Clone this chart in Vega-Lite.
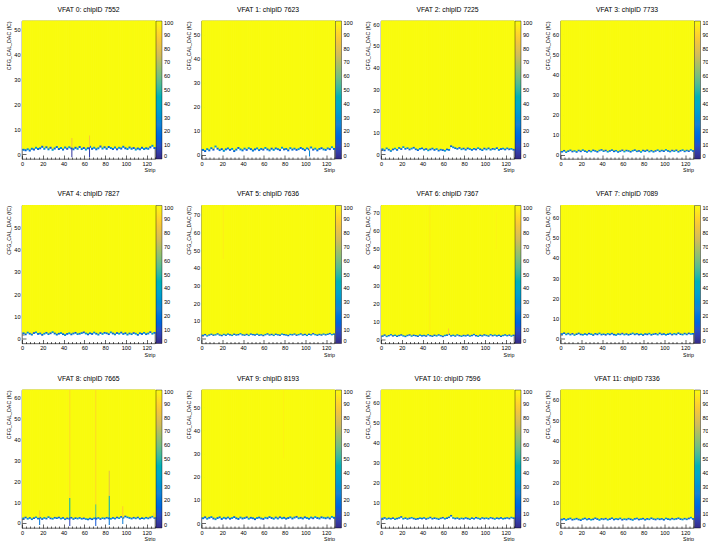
{
"$schema":"https://vega.github.io/schema/vega-lite/v6.json",
"background":"white",
"padding":{"left":6,"top":6,"right":0,"bottom":0},
"config":{
 "font":"Liberation Sans",
 "view":{"stroke":"#222","strokeWidth":0.7},
 "axis":{"grid":false,"domain":false,"zindex":1,"labelFont":"Liberation Sans","labelFontSize":5.6,"labelColor":"#000","tickColor":"#000","tickWidth":0.6,"titleFont":"Liberation Sans","titleFontSize":5.3,"titleFontWeight":"normal","titleColor":"#000","titlePadding":2,"labelFlush":false,"labelPadding":6},
 "legend":{"gradientLength":138,"gradientThickness":6,"labelFont":"Liberation Sans","labelFontSize":5.6,"labelColor":"#000","offset":1,"padding":0,"labelOffset":2,"gradientStrokeColor":"#000","gradientStrokeWidth":0.4,"labelOverlap":false},
 "title":{"font":"Liberation Sans","fontSize":6.8,"fontWeight":"normal","color":"#000","anchor":"middle","frame":"group","offset":7}
},
"datasets":{
"d0":[{"s":0,"b":1.4,"t":2.2,"v":22},{"s":2,"b":1.2,"t":2.0,"v":14},{"s":4,"b":1.6,"t":2.4,"v":30},{"s":6,"b":1.1,"t":1.9,"v":18},{"s":8,"b":1.8,"t":2.6,"v":26},{"s":10,"b":1.5,"t":2.3,"v":12},{"s":12,"b":2.2,"t":3.0,"v":34},{"s":14,"b":1.7,"t":2.5,"v":16},{"s":16,"b":2.0,"t":2.8,"v":22},{"s":18,"b":2.6,"t":3.4,"v":14},{"s":20,"b":1.8,"t":2.6,"v":30},{"s":22,"b":2.4,"t":3.2,"v":18},{"s":24,"b":1.6,"t":2.4,"v":26},{"s":26,"b":2.2,"t":3.0,"v":12},{"s":28,"b":1.4,"t":2.2,"v":34},{"s":30,"b":1.9,"t":2.7,"v":16},{"s":32,"b":2.5,"t":3.3,"v":22},{"s":34,"b":1.7,"t":2.5,"v":14},{"s":36,"b":2.1,"t":2.9,"v":30},{"s":38,"b":1.5,"t":2.3,"v":18},{"s":40,"b":2.3,"t":3.1,"v":26},{"s":42,"b":1.8,"t":2.6,"v":12},{"s":44,"b":2.4,"t":3.2,"v":34},{"s":46,"b":2.0,"t":2.8,"v":16},{"s":48,"b":1.6,"t":2.4,"v":22},{"s":50,"b":2.2,"t":3.0,"v":14},{"s":52,"b":1.8,"t":2.6,"v":30},{"s":54,"b":2.5,"t":3.3,"v":18},{"s":56,"b":1.7,"t":2.5,"v":26},{"s":58,"b":2.1,"t":2.9,"v":12},{"s":60,"b":1.5,"t":2.3,"v":34},{"s":62,"b":2.0,"t":2.8,"v":16},{"s":64,"b":2.6,"t":3.4,"v":22},{"s":66,"b":1.8,"t":2.6,"v":14},{"s":68,"b":2.2,"t":3.0,"v":30},{"s":70,"b":1.6,"t":2.4,"v":18},{"s":72,"b":2.0,"t":2.8,"v":26},{"s":74,"b":2.7,"t":3.5,"v":12},{"s":76,"b":1.9,"t":2.7,"v":34},{"s":78,"b":2.4,"t":3.2,"v":16},{"s":80,"b":1.8,"t":2.6,"v":22},{"s":82,"b":2.5,"t":3.3,"v":14},{"s":84,"b":2.1,"t":2.9,"v":30},{"s":86,"b":1.7,"t":2.5,"v":18},{"s":88,"b":2.3,"t":3.1,"v":26},{"s":90,"b":1.6,"t":2.4,"v":12},{"s":92,"b":2.2,"t":3.0,"v":34},{"s":94,"b":1.9,"t":2.7,"v":16},{"s":96,"b":2.6,"t":3.4,"v":22},{"s":98,"b":2.0,"t":2.8,"v":14},{"s":100,"b":1.7,"t":2.5,"v":30},{"s":102,"b":2.3,"t":3.1,"v":18},{"s":104,"b":1.8,"t":2.6,"v":26},{"s":106,"b":2.1,"t":2.9,"v":12},{"s":108,"b":1.5,"t":2.3,"v":34},{"s":110,"b":1.9,"t":2.7,"v":16},{"s":112,"b":1.6,"t":2.4,"v":22},{"s":114,"b":2.2,"t":3.0,"v":14},{"s":116,"b":1.7,"t":2.5,"v":30},{"s":118,"b":2.0,"t":2.8,"v":18},{"s":120,"b":1.8,"t":2.6,"v":26},{"s":122,"b":2.4,"t":3.2,"v":12},{"s":124,"b":3.0,"t":3.8,"v":34},{"s":126,"b":2.1,"t":2.9,"v":16}],
"d1":[{"s":0,"b":1.6,"t":2.4,"v":22},{"s":2,"b":1.1,"t":1.9,"v":14},{"s":4,"b":1.9,"t":2.7,"v":30},{"s":6,"b":1.4,"t":2.2,"v":18},{"s":8,"b":2.3,"t":3.1,"v":26},{"s":10,"b":1.7,"t":2.5,"v":12},{"s":12,"b":3.0,"t":3.8,"v":34},{"s":14,"b":2.1,"t":2.9,"v":16},{"s":16,"b":1.5,"t":2.3,"v":22},{"s":18,"b":1.9,"t":2.7,"v":14},{"s":20,"b":1.2,"t":2.0,"v":30},{"s":22,"b":1.8,"t":2.6,"v":18},{"s":24,"b":2.2,"t":3.0,"v":26},{"s":26,"b":1.6,"t":2.4,"v":12},{"s":28,"b":2.0,"t":2.8,"v":34},{"s":30,"b":1.1,"t":1.9,"v":16},{"s":32,"b":1.7,"t":2.5,"v":22},{"s":34,"b":2.4,"t":3.2,"v":14},{"s":36,"b":1.8,"t":2.6,"v":30},{"s":38,"b":1.4,"t":2.2,"v":18},{"s":40,"b":2.1,"t":2.9,"v":26},{"s":42,"b":1.6,"t":2.4,"v":12},{"s":44,"b":2.3,"t":3.1,"v":34},{"s":46,"b":1.9,"t":2.7,"v":16},{"s":48,"b":1.3,"t":2.1,"v":22},{"s":50,"b":1.8,"t":2.6,"v":14},{"s":52,"b":2.2,"t":3.0,"v":30},{"s":54,"b":1.5,"t":2.3,"v":18},{"s":56,"b":2.0,"t":2.8,"v":26},{"s":58,"b":1.7,"t":2.5,"v":12},{"s":60,"b":2.4,"t":3.2,"v":34},{"s":62,"b":1.8,"t":2.6,"v":16},{"s":64,"b":1.4,"t":2.2,"v":22},{"s":66,"b":2.1,"t":2.9,"v":14},{"s":68,"b":1.6,"t":2.4,"v":30},{"s":70,"b":2.2,"t":3.0,"v":18},{"s":72,"b":1.9,"t":2.7,"v":26},{"s":74,"b":1.5,"t":2.3,"v":12},{"s":76,"b":2.5,"t":3.3,"v":34},{"s":78,"b":1.8,"t":2.6,"v":16},{"s":80,"b":2.0,"t":2.8,"v":22},{"s":82,"b":1.4,"t":2.2,"v":14},{"s":84,"b":2.3,"t":3.1,"v":30},{"s":86,"b":1.7,"t":2.5,"v":18},{"s":88,"b":2.1,"t":2.9,"v":26},{"s":90,"b":1.6,"t":2.4,"v":12},{"s":92,"b":1.9,"t":2.7,"v":34},{"s":94,"b":2.4,"t":3.2,"v":16},{"s":96,"b":2.0,"t":2.8,"v":22},{"s":98,"b":1.5,"t":2.3,"v":14},{"s":100,"b":2.2,"t":3.0,"v":30},{"s":102,"b":1.8,"t":2.6,"v":18},{"s":104,"b":2.6,"t":3.4,"v":26},{"s":106,"b":1.7,"t":2.5,"v":12},{"s":108,"b":2.1,"t":2.9,"v":34},{"s":110,"b":1.4,"t":2.2,"v":16},{"s":112,"b":2.0,"t":2.8,"v":22},{"s":114,"b":2.3,"t":3.1,"v":14},{"s":116,"b":1.8,"t":2.6,"v":30},{"s":118,"b":1.6,"t":2.4,"v":18},{"s":120,"b":2.2,"t":3.0,"v":26},{"s":122,"b":1.9,"t":2.7,"v":12},{"s":124,"b":2.7,"t":3.5,"v":34},{"s":126,"b":2.0,"t":2.8,"v":16}],
"d2":[{"s":0,"b":1.8,"t":2.6,"v":22},{"s":2,"b":1.3,"t":2.1,"v":14},{"s":4,"b":2.2,"t":3.0,"v":30},{"s":6,"b":1.6,"t":2.4,"v":18},{"s":8,"b":1.0,"t":1.8,"v":26},{"s":10,"b":1.7,"t":2.5,"v":12},{"s":12,"b":2.1,"t":2.9,"v":34},{"s":14,"b":1.5,"t":2.3,"v":16},{"s":16,"b":2.4,"t":3.2,"v":22},{"s":18,"b":1.9,"t":2.7,"v":14},{"s":20,"b":2.8,"t":3.6,"v":30},{"s":22,"b":2.0,"t":2.8,"v":18},{"s":24,"b":2.3,"t":3.1,"v":26},{"s":26,"b":1.7,"t":2.5,"v":12},{"s":28,"b":2.1,"t":2.9,"v":34},{"s":30,"b":2.5,"t":3.3,"v":16},{"s":32,"b":1.8,"t":2.6,"v":22},{"s":34,"b":1.4,"t":2.2,"v":14},{"s":36,"b":2.0,"t":2.8,"v":30},{"s":38,"b":2.2,"t":3.0,"v":18},{"s":40,"b":1.6,"t":2.4,"v":26},{"s":42,"b":1.9,"t":2.7,"v":12},{"s":44,"b":1.3,"t":2.1,"v":34},{"s":46,"b":1.7,"t":2.5,"v":16},{"s":48,"b":2.1,"t":2.9,"v":22},{"s":50,"b":1.5,"t":2.3,"v":14},{"s":52,"b":1.9,"t":2.7,"v":30},{"s":54,"b":1.2,"t":2.0,"v":18},{"s":56,"b":1.6,"t":2.4,"v":26},{"s":58,"b":1.4,"t":2.2,"v":12},{"s":60,"b":1.1,"t":1.9,"v":34},{"s":62,"b":1.7,"t":2.5,"v":16},{"s":64,"b":1.5,"t":2.3,"v":22},{"s":66,"b":3.2,"t":4.0,"v":14},{"s":68,"b":2.7,"t":3.5,"v":30},{"s":70,"b":2.3,"t":3.1,"v":18},{"s":72,"b":2.0,"t":2.8,"v":26},{"s":74,"b":2.4,"t":3.2,"v":12},{"s":76,"b":1.8,"t":2.6,"v":34},{"s":78,"b":2.1,"t":2.9,"v":16},{"s":80,"b":1.6,"t":2.4,"v":22},{"s":82,"b":2.2,"t":3.0,"v":14},{"s":84,"b":1.9,"t":2.7,"v":30},{"s":86,"b":1.5,"t":2.3,"v":18},{"s":88,"b":2.0,"t":2.8,"v":26},{"s":90,"b":1.7,"t":2.5,"v":12},{"s":92,"b":2.3,"t":3.1,"v":34},{"s":94,"b":1.8,"t":2.6,"v":16},{"s":96,"b":1.4,"t":2.2,"v":22},{"s":98,"b":2.1,"t":2.9,"v":14},{"s":100,"b":1.7,"t":2.5,"v":30},{"s":102,"b":2.2,"t":3.0,"v":18},{"s":104,"b":1.6,"t":2.4,"v":26},{"s":106,"b":2.0,"t":2.8,"v":12},{"s":108,"b":1.8,"t":2.6,"v":34},{"s":110,"b":2.3,"t":3.1,"v":16},{"s":112,"b":1.5,"t":2.3,"v":22},{"s":114,"b":1.9,"t":2.7,"v":14},{"s":116,"b":2.1,"t":2.9,"v":30},{"s":118,"b":1.7,"t":2.5,"v":18},{"s":120,"b":2.2,"t":3.0,"v":26},{"s":122,"b":1.8,"t":2.6,"v":12},{"s":124,"b":2.0,"t":2.8,"v":34},{"s":126,"b":1.6,"t":2.4,"v":16}],
"d3":[{"s":0,"b":1.2,"t":2.0,"v":22},{"s":2,"b":1.7,"t":2.5,"v":14},{"s":4,"b":1.0,"t":1.8,"v":30},{"s":6,"b":1.5,"t":2.3,"v":18},{"s":8,"b":1.9,"t":2.7,"v":26},{"s":10,"b":1.3,"t":2.1,"v":12},{"s":12,"b":1.6,"t":2.4,"v":34},{"s":14,"b":1.1,"t":1.9,"v":16},{"s":16,"b":1.8,"t":2.6,"v":22},{"s":18,"b":1.4,"t":2.2,"v":14},{"s":20,"b":2.0,"t":2.8,"v":30},{"s":22,"b":1.5,"t":2.3,"v":18},{"s":24,"b":1.1,"t":1.9,"v":26},{"s":26,"b":1.7,"t":2.5,"v":12},{"s":28,"b":1.3,"t":2.1,"v":34},{"s":30,"b":1.9,"t":2.7,"v":16},{"s":32,"b":1.6,"t":2.4,"v":22},{"s":34,"b":1.2,"t":2.0,"v":14},{"s":36,"b":1.8,"t":2.6,"v":30},{"s":38,"b":2.1,"t":2.9,"v":18},{"s":40,"b":1.5,"t":2.3,"v":26},{"s":42,"b":1.8,"t":2.6,"v":12},{"s":44,"b":1.2,"t":2.0,"v":34},{"s":46,"b":1.6,"t":2.4,"v":16},{"s":48,"b":2.0,"t":2.8,"v":22},{"s":50,"b":1.4,"t":2.2,"v":14},{"s":52,"b":1.7,"t":2.5,"v":30},{"s":54,"b":1.1,"t":1.9,"v":18},{"s":56,"b":1.5,"t":2.3,"v":26},{"s":58,"b":1.9,"t":2.7,"v":12},{"s":60,"b":1.3,"t":2.1,"v":34},{"s":62,"b":1.8,"t":2.6,"v":16},{"s":64,"b":1.6,"t":2.4,"v":22},{"s":66,"b":1.2,"t":2.0,"v":14},{"s":68,"b":1.7,"t":2.5,"v":30},{"s":70,"b":2.0,"t":2.8,"v":18},{"s":72,"b":1.4,"t":2.2,"v":26},{"s":74,"b":1.6,"t":2.4,"v":12},{"s":76,"b":1.1,"t":1.9,"v":34},{"s":78,"b":1.8,"t":2.6,"v":16},{"s":80,"b":1.5,"t":2.3,"v":22},{"s":82,"b":1.9,"t":2.7,"v":14},{"s":84,"b":1.3,"t":2.1,"v":30},{"s":86,"b":1.7,"t":2.5,"v":18},{"s":88,"b":1.2,"t":2.0,"v":26},{"s":90,"b":1.6,"t":2.4,"v":12},{"s":92,"b":2.0,"t":2.8,"v":34},{"s":94,"b":1.4,"t":2.2,"v":16},{"s":96,"b":1.8,"t":2.6,"v":22},{"s":98,"b":1.5,"t":2.3,"v":14},{"s":100,"b":2.1,"t":2.9,"v":30},{"s":102,"b":1.6,"t":2.4,"v":18},{"s":104,"b":1.3,"t":2.1,"v":26},{"s":106,"b":1.8,"t":2.6,"v":12},{"s":108,"b":1.5,"t":2.3,"v":34},{"s":110,"b":1.9,"t":2.7,"v":16},{"s":112,"b":1.2,"t":2.0,"v":22},{"s":114,"b":1.7,"t":2.5,"v":14},{"s":116,"b":2.0,"t":2.8,"v":30},{"s":118,"b":1.4,"t":2.2,"v":18},{"s":120,"b":1.8,"t":2.6,"v":26},{"s":122,"b":1.5,"t":2.3,"v":12},{"s":124,"b":2.1,"t":2.9,"v":34},{"s":126,"b":1.6,"t":2.4,"v":16}],
"d4":[{"s":0,"b":2.0,"t":2.8,"v":22},{"s":2,"b":1.5,"t":2.3,"v":14},{"s":4,"b":2.3,"t":3.1,"v":30},{"s":6,"b":1.8,"t":2.6,"v":18},{"s":8,"b":1.4,"t":2.2,"v":26},{"s":10,"b":2.1,"t":2.9,"v":12},{"s":12,"b":2.4,"t":3.2,"v":34},{"s":14,"b":1.7,"t":2.5,"v":16},{"s":16,"b":1.9,"t":2.7,"v":22},{"s":18,"b":1.3,"t":2.1,"v":14},{"s":20,"b":1.8,"t":2.6,"v":30},{"s":22,"b":2.2,"t":3.0,"v":18},{"s":24,"b":1.6,"t":2.4,"v":26},{"s":26,"b":2.0,"t":2.8,"v":12},{"s":28,"b":2.5,"t":3.3,"v":34},{"s":30,"b":1.9,"t":2.7,"v":16},{"s":32,"b":1.4,"t":2.2,"v":22},{"s":34,"b":1.8,"t":2.6,"v":14},{"s":36,"b":2.1,"t":2.9,"v":30},{"s":38,"b":1.6,"t":2.4,"v":18},{"s":40,"b":1.2,"t":2.0,"v":26},{"s":42,"b":1.7,"t":2.5,"v":12},{"s":44,"b":2.0,"t":2.8,"v":34},{"s":46,"b":1.5,"t":2.3,"v":16},{"s":48,"b":1.9,"t":2.7,"v":22},{"s":50,"b":2.2,"t":3.0,"v":14},{"s":52,"b":1.6,"t":2.4,"v":30},{"s":54,"b":1.8,"t":2.6,"v":18},{"s":56,"b":2.1,"t":2.9,"v":26},{"s":58,"b":2.4,"t":3.2,"v":12},{"s":60,"b":1.9,"t":2.7,"v":34},{"s":62,"b":1.5,"t":2.3,"v":16},{"s":64,"b":2.0,"t":2.8,"v":22},{"s":66,"b":1.7,"t":2.5,"v":14},{"s":68,"b":2.3,"t":3.1,"v":30},{"s":70,"b":1.8,"t":2.6,"v":18},{"s":72,"b":1.4,"t":2.2,"v":26},{"s":74,"b":2.1,"t":2.9,"v":12},{"s":76,"b":1.7,"t":2.5,"v":34},{"s":78,"b":2.2,"t":3.0,"v":16},{"s":80,"b":2.0,"t":2.8,"v":22},{"s":82,"b":1.6,"t":2.4,"v":14},{"s":84,"b":2.4,"t":3.2,"v":30},{"s":86,"b":1.9,"t":2.7,"v":18},{"s":88,"b":1.5,"t":2.3,"v":26},{"s":90,"b":2.1,"t":2.9,"v":12},{"s":92,"b":1.8,"t":2.6,"v":34},{"s":94,"b":2.3,"t":3.1,"v":16},{"s":96,"b":1.7,"t":2.5,"v":22},{"s":98,"b":2.0,"t":2.8,"v":14},{"s":100,"b":1.4,"t":2.2,"v":30},{"s":102,"b":1.9,"t":2.7,"v":18},{"s":104,"b":1.6,"t":2.4,"v":26},{"s":106,"b":2.1,"t":2.9,"v":12},{"s":108,"b":1.8,"t":2.6,"v":34},{"s":110,"b":1.3,"t":2.1,"v":16},{"s":112,"b":2.0,"t":2.8,"v":22},{"s":114,"b":1.7,"t":2.5,"v":14},{"s":116,"b":2.2,"t":3.0,"v":30},{"s":118,"b":1.6,"t":2.4,"v":18},{"s":120,"b":1.9,"t":2.7,"v":26},{"s":122,"b":2.5,"t":3.3,"v":12},{"s":124,"b":1.8,"t":2.6,"v":34},{"s":126,"b":2.2,"t":3.0,"v":16}],
"d5":[{"s":0,"b":1.4,"t":2.2,"v":22},{"s":2,"b":1.8,"t":2.6,"v":14},{"s":4,"b":1.1,"t":1.9,"v":30},{"s":6,"b":1.6,"t":2.4,"v":18},{"s":8,"b":2.0,"t":2.8,"v":26},{"s":10,"b":1.5,"t":2.3,"v":12},{"s":12,"b":1.7,"t":2.5,"v":34},{"s":14,"b":2.2,"t":3.0,"v":16},{"s":16,"b":1.6,"t":2.4,"v":22},{"s":18,"b":1.3,"t":2.1,"v":14},{"s":20,"b":1.9,"t":2.7,"v":30},{"s":22,"b":1.5,"t":2.3,"v":18},{"s":24,"b":2.1,"t":2.9,"v":26},{"s":26,"b":1.7,"t":2.5,"v":12},{"s":28,"b":1.4,"t":2.2,"v":34},{"s":30,"b":2.0,"t":2.8,"v":16},{"s":32,"b":1.6,"t":2.4,"v":22},{"s":34,"b":1.8,"t":2.6,"v":14},{"s":36,"b":2.3,"t":3.1,"v":30},{"s":38,"b":1.7,"t":2.5,"v":18},{"s":40,"b":1.5,"t":2.3,"v":26},{"s":42,"b":1.9,"t":2.7,"v":12},{"s":44,"b":1.4,"t":2.2,"v":34},{"s":46,"b":2.1,"t":2.9,"v":16},{"s":48,"b":1.8,"t":2.6,"v":22},{"s":50,"b":1.6,"t":2.4,"v":14},{"s":52,"b":2.0,"t":2.8,"v":30},{"s":54,"b":1.5,"t":2.3,"v":18},{"s":56,"b":1.7,"t":2.5,"v":26},{"s":58,"b":1.3,"t":2.1,"v":12},{"s":60,"b":1.8,"t":2.6,"v":34},{"s":62,"b":2.2,"t":3.0,"v":16},{"s":64,"b":1.6,"t":2.4,"v":22},{"s":66,"b":1.9,"t":2.7,"v":14},{"s":68,"b":1.4,"t":2.2,"v":30},{"s":70,"b":2.0,"t":2.8,"v":18},{"s":72,"b":1.7,"t":2.5,"v":26},{"s":74,"b":1.5,"t":2.3,"v":12},{"s":76,"b":2.1,"t":2.9,"v":34},{"s":78,"b":1.8,"t":2.6,"v":16},{"s":80,"b":1.6,"t":2.4,"v":22},{"s":82,"b":1.3,"t":2.1,"v":14},{"s":84,"b":1.9,"t":2.7,"v":30},{"s":86,"b":1.7,"t":2.5,"v":18},{"s":88,"b":2.1,"t":2.9,"v":26},{"s":90,"b":1.5,"t":2.3,"v":12},{"s":92,"b":1.8,"t":2.6,"v":34},{"s":94,"b":2.2,"t":3.0,"v":16},{"s":96,"b":1.6,"t":2.4,"v":22},{"s":98,"b":1.9,"t":2.7,"v":14},{"s":100,"b":1.4,"t":2.2,"v":30},{"s":102,"b":2.0,"t":2.8,"v":18},{"s":104,"b":1.7,"t":2.5,"v":26},{"s":106,"b":2.3,"t":3.1,"v":12},{"s":108,"b":1.8,"t":2.6,"v":34},{"s":110,"b":1.5,"t":2.3,"v":16},{"s":112,"b":1.9,"t":2.7,"v":22},{"s":114,"b":1.6,"t":2.4,"v":14},{"s":116,"b":2.1,"t":2.9,"v":30},{"s":118,"b":1.7,"t":2.5,"v":18},{"s":120,"b":2.0,"t":2.8,"v":26},{"s":122,"b":2.4,"t":3.2,"v":12},{"s":124,"b":1.8,"t":2.6,"v":34},{"s":126,"b":2.1,"t":2.9,"v":16}],
"d6":[{"s":0,"b":1.5,"t":2.3,"v":22},{"s":2,"b":2.0,"t":2.8,"v":14},{"s":4,"b":1.3,"t":2.1,"v":30},{"s":6,"b":1.7,"t":2.5,"v":18},{"s":8,"b":2.2,"t":3.0,"v":26},{"s":10,"b":1.6,"t":2.4,"v":12},{"s":12,"b":1.9,"t":2.7,"v":34},{"s":14,"b":1.4,"t":2.2,"v":16},{"s":16,"b":1.8,"t":2.6,"v":22},{"s":18,"b":2.1,"t":2.9,"v":14},{"s":20,"b":1.6,"t":2.4,"v":30},{"s":22,"b":1.3,"t":2.1,"v":18},{"s":24,"b":1.8,"t":2.6,"v":26},{"s":26,"b":2.1,"t":2.9,"v":12},{"s":28,"b":1.5,"t":2.3,"v":34},{"s":30,"b":1.9,"t":2.7,"v":16},{"s":32,"b":1.7,"t":2.5,"v":22},{"s":34,"b":1.4,"t":2.2,"v":14},{"s":36,"b":2.0,"t":2.8,"v":30},{"s":38,"b":1.6,"t":2.4,"v":18},{"s":40,"b":1.8,"t":2.6,"v":26},{"s":42,"b":1.5,"t":2.3,"v":12},{"s":44,"b":2.2,"t":3.0,"v":34},{"s":46,"b":1.7,"t":2.5,"v":16},{"s":48,"b":1.4,"t":2.2,"v":22},{"s":50,"b":1.9,"t":2.7,"v":14},{"s":52,"b":1.6,"t":2.4,"v":30},{"s":54,"b":2.1,"t":2.9,"v":18},{"s":56,"b":1.7,"t":2.5,"v":26},{"s":58,"b":1.3,"t":2.1,"v":12},{"s":60,"b":1.8,"t":2.6,"v":34},{"s":62,"b":2.0,"t":2.8,"v":16},{"s":64,"b":2.4,"t":3.2,"v":22},{"s":66,"b":1.6,"t":2.4,"v":14},{"s":68,"b":1.9,"t":2.7,"v":30},{"s":70,"b":1.5,"t":2.3,"v":18},{"s":72,"b":2.1,"t":2.9,"v":26},{"s":74,"b":1.7,"t":2.5,"v":12},{"s":76,"b":1.4,"t":2.2,"v":34},{"s":78,"b":1.8,"t":2.6,"v":16},{"s":80,"b":1.6,"t":2.4,"v":22},{"s":82,"b":2.0,"t":2.8,"v":14},{"s":84,"b":1.5,"t":2.3,"v":30},{"s":86,"b":1.8,"t":2.6,"v":18},{"s":88,"b":2.3,"t":3.1,"v":26},{"s":90,"b":1.7,"t":2.5,"v":12},{"s":92,"b":1.4,"t":2.2,"v":34},{"s":94,"b":1.9,"t":2.7,"v":16},{"s":96,"b":1.6,"t":2.4,"v":22},{"s":98,"b":2.1,"t":2.9,"v":14},{"s":100,"b":1.8,"t":2.6,"v":30},{"s":102,"b":1.5,"t":2.3,"v":18},{"s":104,"b":2.2,"t":3.0,"v":26},{"s":106,"b":1.7,"t":2.5,"v":12},{"s":108,"b":2.0,"t":2.8,"v":34},{"s":110,"b":1.6,"t":2.4,"v":16},{"s":112,"b":1.9,"t":2.7,"v":22},{"s":114,"b":1.4,"t":2.2,"v":14},{"s":116,"b":1.8,"t":2.6,"v":30},{"s":118,"b":2.1,"t":2.9,"v":18},{"s":120,"b":1.7,"t":2.5,"v":26},{"s":122,"b":2.0,"t":2.8,"v":12},{"s":124,"b":1.5,"t":2.3,"v":34},{"s":126,"b":1.9,"t":2.7,"v":16}],
"d7":[{"s":0,"b":1.9,"t":2.7,"v":22},{"s":2,"b":2.3,"t":3.1,"v":14},{"s":4,"b":1.7,"t":2.5,"v":30},{"s":6,"b":2.1,"t":2.9,"v":18},{"s":8,"b":1.6,"t":2.4,"v":26},{"s":10,"b":2.0,"t":2.8,"v":12},{"s":12,"b":1.4,"t":2.2,"v":34},{"s":14,"b":1.8,"t":2.6,"v":16},{"s":16,"b":2.2,"t":3.0,"v":22},{"s":18,"b":1.7,"t":2.5,"v":14},{"s":20,"b":1.5,"t":2.3,"v":30},{"s":22,"b":1.9,"t":2.7,"v":18},{"s":24,"b":1.6,"t":2.4,"v":26},{"s":26,"b":2.1,"t":2.9,"v":12},{"s":28,"b":1.8,"t":2.6,"v":34},{"s":30,"b":1.4,"t":2.2,"v":16},{"s":32,"b":2.0,"t":2.8,"v":22},{"s":34,"b":1.7,"t":2.5,"v":14},{"s":36,"b":2.2,"t":3.0,"v":30},{"s":38,"b":1.6,"t":2.4,"v":18},{"s":40,"b":1.8,"t":2.6,"v":26},{"s":42,"b":1.5,"t":2.3,"v":12},{"s":44,"b":2.0,"t":2.8,"v":34},{"s":46,"b":1.7,"t":2.5,"v":16},{"s":48,"b":2.1,"t":2.9,"v":22},{"s":50,"b":1.6,"t":2.4,"v":14},{"s":52,"b":1.4,"t":2.2,"v":30},{"s":54,"b":1.9,"t":2.7,"v":18},{"s":56,"b":1.7,"t":2.5,"v":26},{"s":58,"b":2.1,"t":2.9,"v":12},{"s":60,"b":1.6,"t":2.4,"v":34},{"s":62,"b":1.9,"t":2.7,"v":16},{"s":64,"b":1.5,"t":2.3,"v":22},{"s":66,"b":1.8,"t":2.6,"v":14},{"s":68,"b":2.2,"t":3.0,"v":30},{"s":70,"b":1.7,"t":2.5,"v":18},{"s":72,"b":2.0,"t":2.8,"v":26},{"s":74,"b":1.6,"t":2.4,"v":12},{"s":76,"b":1.8,"t":2.6,"v":34},{"s":78,"b":1.4,"t":2.2,"v":16},{"s":80,"b":1.9,"t":2.7,"v":22},{"s":82,"b":1.7,"t":2.5,"v":14},{"s":84,"b":2.1,"t":2.9,"v":30},{"s":86,"b":1.5,"t":2.3,"v":18},{"s":88,"b":1.8,"t":2.6,"v":26},{"s":90,"b":2.0,"t":2.8,"v":12},{"s":92,"b":1.6,"t":2.4,"v":34},{"s":94,"b":2.2,"t":3.0,"v":16},{"s":96,"b":1.7,"t":2.5,"v":22},{"s":98,"b":1.9,"t":2.7,"v":14},{"s":100,"b":1.5,"t":2.3,"v":30},{"s":102,"b":1.8,"t":2.6,"v":18},{"s":104,"b":2.1,"t":2.9,"v":26},{"s":106,"b":1.6,"t":2.4,"v":12},{"s":108,"b":2.0,"t":2.8,"v":34},{"s":110,"b":1.7,"t":2.5,"v":16},{"s":112,"b":2.3,"t":3.1,"v":22},{"s":114,"b":1.8,"t":2.6,"v":14},{"s":116,"b":1.6,"t":2.4,"v":30},{"s":118,"b":2.1,"t":2.9,"v":18},{"s":120,"b":1.7,"t":2.5,"v":26},{"s":122,"b":2.2,"t":3.0,"v":12},{"s":124,"b":1.9,"t":2.7,"v":34},{"s":126,"b":2.0,"t":2.8,"v":16}],
"d8":[{"s":0,"b":1.8,"t":2.6,"v":22},{"s":2,"b":2.2,"t":3.0,"v":14},{"s":4,"b":1.6,"t":2.4,"v":30},{"s":6,"b":2.0,"t":2.8,"v":18},{"s":8,"b":1.4,"t":2.2,"v":26},{"s":10,"b":1.9,"t":2.7,"v":12},{"s":12,"b":2.3,"t":3.1,"v":34},{"s":14,"b":1.7,"t":2.5,"v":16},{"s":16,"b":2.1,"t":2.9,"v":22},{"s":18,"b":1.5,"t":2.3,"v":14},{"s":20,"b":2.0,"t":2.8,"v":30},{"s":22,"b":1.7,"t":2.5,"v":18},{"s":24,"b":2.4,"t":3.2,"v":26},{"s":26,"b":1.8,"t":2.6,"v":12},{"s":28,"b":1.6,"t":2.4,"v":34},{"s":30,"b":2.1,"t":2.9,"v":16},{"s":32,"b":1.9,"t":2.7,"v":22},{"s":34,"b":2.2,"t":3.0,"v":14},{"s":36,"b":1.7,"t":2.5,"v":30},{"s":38,"b":2.0,"t":2.8,"v":18},{"s":40,"b":1.4,"t":2.2,"v":26},{"s":42,"b":1.8,"t":2.6,"v":12},{"s":44,"b":1.6,"t":2.4,"v":34},{"s":46,"b":2.1,"t":2.9,"v":16},{"s":48,"b":1.5,"t":2.3,"v":22},{"s":50,"b":1.9,"t":2.7,"v":14},{"s":52,"b":1.7,"t":2.5,"v":30},{"s":54,"b":2.0,"t":2.8,"v":18},{"s":56,"b":1.6,"t":2.4,"v":26},{"s":58,"b":1.8,"t":2.6,"v":12},{"s":60,"b":1.5,"t":2.3,"v":34},{"s":62,"b":1.3,"t":2.1,"v":16},{"s":64,"b":1.7,"t":2.5,"v":22},{"s":66,"b":1.4,"t":2.2,"v":14},{"s":68,"b":1.8,"t":2.6,"v":30},{"s":70,"b":1.6,"t":2.4,"v":18},{"s":72,"b":2.0,"t":2.8,"v":26},{"s":74,"b":1.5,"t":2.3,"v":12},{"s":76,"b":1.9,"t":2.7,"v":34},{"s":78,"b":1.7,"t":2.5,"v":16},{"s":80,"b":2.1,"t":2.9,"v":22},{"s":82,"b":1.8,"t":2.6,"v":14},{"s":84,"b":1.6,"t":2.4,"v":30},{"s":86,"b":2.0,"t":2.8,"v":18},{"s":88,"b":1.7,"t":2.5,"v":26},{"s":90,"b":2.2,"t":3.0,"v":12},{"s":92,"b":1.9,"t":2.7,"v":34},{"s":94,"b":2.5,"t":3.3,"v":16},{"s":96,"b":2.1,"t":2.9,"v":22},{"s":98,"b":2.7,"t":3.5,"v":14},{"s":100,"b":2.3,"t":3.1,"v":30},{"s":102,"b":2.0,"t":2.8,"v":18},{"s":104,"b":1.7,"t":2.5,"v":26},{"s":106,"b":2.1,"t":2.9,"v":12},{"s":108,"b":1.8,"t":2.6,"v":34},{"s":110,"b":2.2,"t":3.0,"v":16},{"s":112,"b":1.6,"t":2.4,"v":22},{"s":114,"b":1.9,"t":2.7,"v":14},{"s":116,"b":1.7,"t":2.5,"v":30},{"s":118,"b":2.1,"t":2.9,"v":18},{"s":120,"b":1.8,"t":2.6,"v":26},{"s":122,"b":2.2,"t":3.0,"v":12},{"s":124,"b":2.6,"t":3.4,"v":34},{"s":126,"b":2.0,"t":2.8,"v":16}],
"d9":[{"s":0,"b":1.7,"t":2.5,"v":22},{"s":2,"b":2.1,"t":2.9,"v":14},{"s":4,"b":1.5,"t":2.3,"v":30},{"s":6,"b":1.9,"t":2.7,"v":18},{"s":8,"b":2.2,"t":3.0,"v":26},{"s":10,"b":1.6,"t":2.4,"v":12},{"s":12,"b":1.3,"t":2.1,"v":34},{"s":14,"b":1.8,"t":2.6,"v":16},{"s":16,"b":2.1,"t":2.9,"v":22},{"s":18,"b":1.4,"t":2.2,"v":14},{"s":20,"b":1.9,"t":2.7,"v":30},{"s":22,"b":1.6,"t":2.4,"v":18},{"s":24,"b":2.0,"t":2.8,"v":26},{"s":26,"b":1.5,"t":2.3,"v":12},{"s":28,"b":1.8,"t":2.6,"v":34},{"s":30,"b":2.2,"t":3.0,"v":16},{"s":32,"b":1.7,"t":2.5,"v":22},{"s":34,"b":1.4,"t":2.2,"v":14},{"s":36,"b":2.0,"t":2.8,"v":30},{"s":38,"b":1.6,"t":2.4,"v":18},{"s":40,"b":1.8,"t":2.6,"v":26},{"s":42,"b":2.1,"t":2.9,"v":12},{"s":44,"b":1.5,"t":2.3,"v":34},{"s":46,"b":1.9,"t":2.7,"v":16},{"s":48,"b":1.7,"t":2.5,"v":22},{"s":50,"b":1.3,"t":2.1,"v":14},{"s":52,"b":1.8,"t":2.6,"v":30},{"s":54,"b":2.0,"t":2.8,"v":18},{"s":56,"b":1.6,"t":2.4,"v":26},{"s":58,"b":1.4,"t":2.2,"v":12},{"s":60,"b":1.9,"t":2.7,"v":34},{"s":62,"b":1.7,"t":2.5,"v":16},{"s":64,"b":2.2,"t":3.0,"v":22},{"s":66,"b":1.8,"t":2.6,"v":14},{"s":68,"b":1.5,"t":2.3,"v":30},{"s":70,"b":2.0,"t":2.8,"v":18},{"s":72,"b":1.6,"t":2.4,"v":26},{"s":74,"b":2.1,"t":2.9,"v":12},{"s":76,"b":1.7,"t":2.5,"v":34},{"s":78,"b":1.9,"t":2.7,"v":16},{"s":80,"b":1.5,"t":2.3,"v":22},{"s":82,"b":1.8,"t":2.6,"v":14},{"s":84,"b":2.1,"t":2.9,"v":30},{"s":86,"b":1.6,"t":2.4,"v":18},{"s":88,"b":2.0,"t":2.8,"v":26},{"s":90,"b":2.3,"t":3.1,"v":12},{"s":92,"b":1.7,"t":2.5,"v":34},{"s":94,"b":1.9,"t":2.7,"v":16},{"s":96,"b":1.6,"t":2.4,"v":22},{"s":98,"b":2.1,"t":2.9,"v":14},{"s":100,"b":1.8,"t":2.6,"v":30},{"s":102,"b":1.5,"t":2.3,"v":18},{"s":104,"b":2.0,"t":2.8,"v":26},{"s":106,"b":1.7,"t":2.5,"v":12},{"s":108,"b":2.2,"t":3.0,"v":34},{"s":110,"b":1.8,"t":2.6,"v":16},{"s":112,"b":1.6,"t":2.4,"v":22},{"s":114,"b":2.1,"t":2.9,"v":14},{"s":116,"b":1.9,"t":2.7,"v":30},{"s":118,"b":1.7,"t":2.5,"v":18},{"s":120,"b":2.0,"t":2.8,"v":26},{"s":122,"b":1.6,"t":2.4,"v":12},{"s":124,"b":2.3,"t":3.1,"v":34},{"s":126,"b":1.9,"t":2.7,"v":16}],
"d10":[{"s":0,"b":1.8,"t":2.6,"v":22},{"s":2,"b":2.1,"t":2.9,"v":14},{"s":4,"b":1.6,"t":2.4,"v":30},{"s":6,"b":1.9,"t":2.7,"v":18},{"s":8,"b":1.7,"t":2.5,"v":26},{"s":10,"b":2.0,"t":2.8,"v":12},{"s":12,"b":1.5,"t":2.3,"v":34},{"s":14,"b":1.8,"t":2.6,"v":16},{"s":16,"b":2.1,"t":2.9,"v":22},{"s":18,"b":2.6,"t":3.4,"v":14},{"s":20,"b":1.7,"t":2.5,"v":30},{"s":22,"b":2.0,"t":2.8,"v":18},{"s":24,"b":1.6,"t":2.4,"v":26},{"s":26,"b":1.9,"t":2.7,"v":12},{"s":28,"b":2.2,"t":3.0,"v":34},{"s":30,"b":1.8,"t":2.6,"v":16},{"s":32,"b":1.5,"t":2.3,"v":22},{"s":34,"b":1.7,"t":2.5,"v":14},{"s":36,"b":2.0,"t":2.8,"v":30},{"s":38,"b":1.8,"t":2.6,"v":18},{"s":40,"b":2.1,"t":2.9,"v":26},{"s":42,"b":1.6,"t":2.4,"v":12},{"s":44,"b":1.9,"t":2.7,"v":34},{"s":46,"b":2.3,"t":3.1,"v":16},{"s":48,"b":1.7,"t":2.5,"v":22},{"s":50,"b":2.0,"t":2.8,"v":14},{"s":52,"b":1.8,"t":2.6,"v":30},{"s":54,"b":1.5,"t":2.3,"v":18},{"s":56,"b":1.9,"t":2.7,"v":26},{"s":58,"b":2.2,"t":3.0,"v":12},{"s":60,"b":1.7,"t":2.5,"v":34},{"s":62,"b":2.0,"t":2.8,"v":16},{"s":64,"b":2.4,"t":3.2,"v":22},{"s":66,"b":3.2,"t":4.0,"v":14},{"s":68,"b":2.1,"t":2.9,"v":30},{"s":70,"b":1.8,"t":2.6,"v":18},{"s":72,"b":2.0,"t":2.8,"v":26},{"s":74,"b":1.6,"t":2.4,"v":12},{"s":76,"b":1.9,"t":2.7,"v":34},{"s":78,"b":1.7,"t":2.5,"v":16},{"s":80,"b":2.1,"t":2.9,"v":22},{"s":82,"b":1.8,"t":2.6,"v":14},{"s":84,"b":1.5,"t":2.3,"v":30},{"s":86,"b":2.0,"t":2.8,"v":18},{"s":88,"b":1.7,"t":2.5,"v":26},{"s":90,"b":2.2,"t":3.0,"v":12},{"s":92,"b":1.9,"t":2.7,"v":34},{"s":94,"b":1.6,"t":2.4,"v":16},{"s":96,"b":2.1,"t":2.9,"v":22},{"s":98,"b":1.8,"t":2.6,"v":14},{"s":100,"b":2.0,"t":2.8,"v":30},{"s":102,"b":1.7,"t":2.5,"v":18},{"s":104,"b":2.2,"t":3.0,"v":26},{"s":106,"b":1.9,"t":2.7,"v":12},{"s":108,"b":1.6,"t":2.4,"v":34},{"s":110,"b":2.0,"t":2.8,"v":16},{"s":112,"b":1.8,"t":2.6,"v":22},{"s":114,"b":2.1,"t":2.9,"v":14},{"s":116,"b":1.7,"t":2.5,"v":30},{"s":118,"b":1.9,"t":2.7,"v":18},{"s":120,"b":2.1,"t":2.9,"v":26},{"s":122,"b":1.8,"t":2.6,"v":12},{"s":124,"b":2.3,"t":3.1,"v":34},{"s":126,"b":2.0,"t":2.8,"v":16}],
"d11":[{"s":0,"b":1.5,"t":2.3,"v":22},{"s":2,"b":1.8,"t":2.6,"v":14},{"s":4,"b":1.3,"t":2.1,"v":30},{"s":6,"b":1.7,"t":2.5,"v":18},{"s":8,"b":2.0,"t":2.8,"v":26},{"s":10,"b":1.4,"t":2.2,"v":12},{"s":12,"b":1.6,"t":2.4,"v":34},{"s":14,"b":1.9,"t":2.7,"v":16},{"s":16,"b":1.5,"t":2.3,"v":22},{"s":18,"b":1.2,"t":2.0,"v":14},{"s":20,"b":1.7,"t":2.5,"v":30},{"s":22,"b":2.0,"t":2.8,"v":18},{"s":24,"b":1.5,"t":2.3,"v":26},{"s":26,"b":1.8,"t":2.6,"v":12},{"s":28,"b":1.4,"t":2.2,"v":34},{"s":30,"b":1.6,"t":2.4,"v":16},{"s":32,"b":2.1,"t":2.9,"v":22},{"s":34,"b":1.7,"t":2.5,"v":14},{"s":36,"b":1.3,"t":2.1,"v":30},{"s":38,"b":1.8,"t":2.6,"v":18},{"s":40,"b":1.6,"t":2.4,"v":26},{"s":42,"b":1.9,"t":2.7,"v":12},{"s":44,"b":1.4,"t":2.2,"v":34},{"s":46,"b":1.7,"t":2.5,"v":16},{"s":48,"b":2.1,"t":2.9,"v":22},{"s":50,"b":1.5,"t":2.3,"v":14},{"s":52,"b":1.8,"t":2.6,"v":30},{"s":54,"b":1.6,"t":2.4,"v":18},{"s":56,"b":2.0,"t":2.8,"v":26},{"s":58,"b":1.4,"t":2.2,"v":12},{"s":60,"b":1.7,"t":2.5,"v":34},{"s":62,"b":1.5,"t":2.3,"v":16},{"s":64,"b":1.9,"t":2.7,"v":22},{"s":66,"b":1.6,"t":2.4,"v":14},{"s":68,"b":1.3,"t":2.1,"v":30},{"s":70,"b":1.8,"t":2.6,"v":18},{"s":72,"b":2.0,"t":2.8,"v":26},{"s":74,"b":1.5,"t":2.3,"v":12},{"s":76,"b":1.7,"t":2.5,"v":34},{"s":78,"b":1.9,"t":2.7,"v":16},{"s":80,"b":1.4,"t":2.2,"v":22},{"s":82,"b":1.8,"t":2.6,"v":14},{"s":84,"b":1.6,"t":2.4,"v":30},{"s":86,"b":2.1,"t":2.9,"v":18},{"s":88,"b":1.7,"t":2.5,"v":26},{"s":90,"b":1.5,"t":2.3,"v":12},{"s":92,"b":1.9,"t":2.7,"v":34},{"s":94,"b":1.6,"t":2.4,"v":16},{"s":96,"b":1.8,"t":2.6,"v":22},{"s":98,"b":1.4,"t":2.2,"v":14},{"s":100,"b":2.0,"t":2.8,"v":30},{"s":102,"b":1.7,"t":2.5,"v":18},{"s":104,"b":1.5,"t":2.3,"v":26},{"s":106,"b":1.9,"t":2.7,"v":12},{"s":108,"b":1.6,"t":2.4,"v":34},{"s":110,"b":1.8,"t":2.6,"v":16},{"s":112,"b":2.1,"t":2.9,"v":22},{"s":114,"b":1.7,"t":2.5,"v":14},{"s":116,"b":1.5,"t":2.3,"v":30},{"s":118,"b":1.9,"t":2.7,"v":18},{"s":120,"b":1.6,"t":2.4,"v":26},{"s":122,"b":2.0,"t":2.8,"v":12},{"s":124,"b":2.4,"t":3.2,"v":34},{"s":126,"b":1.8,"t":2.6,"v":16}],
"ex":[{"p":0,"s":47,"b":-1.2,"t":2.6,"v":4},{"p":0,"s":47,"b":2.6,"t":6.5,"v":84},{"p":0,"s":64,"b":-1.2,"t":2.8,"v":6},{"p":0,"s":64,"b":2.8,"t":7.5,"v":86},
{"p":1,"s":103,"b":-0.8,"t":1.8,"v":26},{"p":1,"s":103,"b":1.8,"t":3.5,"v":88},
{"p":5,"s":20,"b":45,"t":75.2,"v":97},
{"p":6,"s":46,"b":2.5,"t":73.8,"v":97},{"p":6,"s":110,"b":50,"t":70,"v":98},{"p":6,"s":64,"b":2.6,"t":6,"v":88},
{"p":8,"s":16,"b":-1,"t":2.5,"v":20},{"p":8,"s":16,"b":2.5,"t":6,"v":86},
{"p":8,"s":45,"b":-1.5,"t":3,"v":8},{"p":8,"s":45,"b":3,"t":12,"v":45},{"p":8,"s":45,"b":12,"t":63.6,"v":92},
{"p":8,"s":70,"b":-1.5,"t":3,"v":12},{"p":8,"s":70,"b":3,"t":9,"v":55},{"p":8,"s":70,"b":9,"t":63.6,"v":92},
{"p":8,"s":83,"b":-1,"t":3,"v":20},{"p":8,"s":83,"b":3,"t":13,"v":40},{"p":8,"s":83,"b":13,"t":25,"v":80},
{"p":8,"s":96,"b":-0.5,"t":2.5,"v":25},{"p":8,"s":96,"b":2.5,"t":8,"v":88},
{"p":8,"s":126,"b":2.5,"t":5,"v":86},
{"p":9,"s":78,"b":28,"t":57.4,"v":98}]
},
"resolve":{"scale":{"color":"independent"},"legend":{"color":"independent"}},
"columns":4,
"spacing":{"row":16.5,"column":10.5},
"concat":[
{"title":"VFAT 0: chipID 7552","width":133,"height":138,"data":{"name":"d0"},
 "encoding":{"x":{"field":"s","type":"quantitative","bin":{"binned":true,"step":2},"scale":{"domain":[0,128],"nice":false,"zero":false},"axis":{"values":[0,4,8,12,16,20,24,28,32,36,40,44,48,52,56,60,64,68,72,76,80,84,88,92,96,100,104,108,112,116,120,124,128],"labelExpr":"datum.value % 20 ? '' : datum.label","tickSize":{"condition":{"test":"datum.value % 20 === 0","value":-4},"value":-2},"title":"Strip","titleAnchor":"end","titlePadding":1}},
  "y":{"field":"t","type":"quantitative","scale":{"domain":[-1.9,53.5],"nice":false,"zero":false},"axis":{"values":[0,2,4,6,8,10,12,14,16,18,20,22,24,26,28,30,32,34,36,38,40,42,44,46,48,50,52,54,56,58,60,62,64,66,68,70,72,74],"labelExpr":"datum.value % 10 ? '' : datum.label","tickSize":{"condition":{"test":"datum.value % 10 === 0","value":-4},"value":-2},"title":"CFG_CAL_DAC (fC)","titleAnchor":"end"}},
  "color":{"field":"v","type":"quantitative","scale":{"type":"linear","domain":[0,12.5,25,37.5,50,62.5,75,87.5,100],"range":["#352a87","#0f5cdd","#1481d6","#06a4ca","#2eb7a4","#87bf77","#d1bb59","#fec832","#f9fb0e"]},"legend":{"title":null,"values":[0,10,20,30,40,50,60,70,80,90,100]}}},
 "layer":[
  {"mark":{"type":"rect","stroke":"#f9fb0e","strokeWidth":1},"encoding":{"y2":{"datum":53.5},"color":{"datum":100,"type":"quantitative"}}},
  {"mark":"rect","encoding":{"y":{"field":"b","type":"quantitative"},"y2":{"field":"t"}}},
  {"data":{"name":"ex"},"transform":[{"filter":"datum.p==0"}],"mark":"rect","encoding":{"x":{"field":"s","type":"quantitative","bin":{"binned":true,"step":1}},"y":{"field":"b","type":"quantitative"},"y2":{"field":"t"}}}
 ]},
{"title":"VFAT 1: chipID 7623","width":133,"height":138,"data":{"name":"d1"},
 "encoding":{"x":{"field":"s","type":"quantitative","bin":{"binned":true,"step":2},"scale":{"domain":[0,128],"nice":false,"zero":false},"axis":{"values":[0,4,8,12,16,20,24,28,32,36,40,44,48,52,56,60,64,68,72,76,80,84,88,92,96,100,104,108,112,116,120,124,128],"labelExpr":"datum.value % 20 ? '' : datum.label","tickSize":{"condition":{"test":"datum.value % 20 === 0","value":-4},"value":-2},"title":"Strip","titleAnchor":"end","titlePadding":1}},
  "y":{"field":"t","type":"quantitative","scale":{"domain":[-1.8,55.7],"nice":false,"zero":false},"axis":{"values":[0,2,4,6,8,10,12,14,16,18,20,22,24,26,28,30,32,34,36,38,40,42,44,46,48,50,52,54,56,58,60,62,64,66,68,70,72,74],"labelExpr":"datum.value % 10 ? '' : datum.label","tickSize":{"condition":{"test":"datum.value % 10 === 0","value":-4},"value":-2},"title":"CFG_CAL_DAC (fC)","titleAnchor":"end"}},
  "color":{"field":"v","type":"quantitative","scale":{"type":"linear","domain":[0,12.5,25,37.5,50,62.5,75,87.5,100],"range":["#352a87","#0f5cdd","#1481d6","#06a4ca","#2eb7a4","#87bf77","#d1bb59","#fec832","#f9fb0e"]},"legend":{"title":null,"values":[0,10,20,30,40,50,60,70,80,90,100]}}},
 "layer":[
  {"mark":{"type":"rect","stroke":"#f9fb0e","strokeWidth":1},"encoding":{"y2":{"datum":55.7},"color":{"datum":100,"type":"quantitative"}}},
  {"mark":"rect","encoding":{"y":{"field":"b","type":"quantitative"},"y2":{"field":"t"}}},
  {"data":{"name":"ex"},"transform":[{"filter":"datum.p==1"}],"mark":"rect","encoding":{"x":{"field":"s","type":"quantitative","bin":{"binned":true,"step":1}},"y":{"field":"b","type":"quantitative"},"y2":{"field":"t"}}}
 ]},
{"title":"VFAT 2: chipID 7225","width":133,"height":138,"data":{"name":"d2"},
 "encoding":{"x":{"field":"s","type":"quantitative","bin":{"binned":true,"step":2},"scale":{"domain":[0,128],"nice":false,"zero":false},"axis":{"values":[0,4,8,12,16,20,24,28,32,36,40,44,48,52,56,60,64,68,72,76,80,84,88,92,96,100,104,108,112,116,120,124,128],"labelExpr":"datum.value % 20 ? '' : datum.label","tickSize":{"condition":{"test":"datum.value % 20 === 0","value":-4},"value":-2},"title":"Strip","titleAnchor":"end","titlePadding":1}},
  "y":{"field":"t","type":"quantitative","scale":{"domain":[-2.3,61.5],"nice":false,"zero":false},"axis":{"values":[0,2,4,6,8,10,12,14,16,18,20,22,24,26,28,30,32,34,36,38,40,42,44,46,48,50,52,54,56,58,60,62,64,66,68,70,72,74],"labelExpr":"datum.value % 10 ? '' : datum.label","tickSize":{"condition":{"test":"datum.value % 10 === 0","value":-4},"value":-2},"title":"CFG_CAL_DAC (fC)","titleAnchor":"end"}},
  "color":{"field":"v","type":"quantitative","scale":{"type":"linear","domain":[0,12.5,25,37.5,50,62.5,75,87.5,100],"range":["#352a87","#0f5cdd","#1481d6","#06a4ca","#2eb7a4","#87bf77","#d1bb59","#fec832","#f9fb0e"]},"legend":{"title":null,"values":[0,10,20,30,40,50,60,70,80,90,100]}}},
 "layer":[
  {"mark":{"type":"rect","stroke":"#f9fb0e","strokeWidth":1},"encoding":{"y2":{"datum":61.5},"color":{"datum":100,"type":"quantitative"}}},
  {"mark":"rect","encoding":{"y":{"field":"b","type":"quantitative"},"y2":{"field":"t"}}},
  {"data":{"name":"ex"},"transform":[{"filter":"datum.p==2"}],"mark":"rect","encoding":{"x":{"field":"s","type":"quantitative","bin":{"binned":true,"step":1}},"y":{"field":"b","type":"quantitative"},"y2":{"field":"t"}}}
 ]},
{"title":"VFAT 3: chipID 7733","width":133,"height":138,"data":{"name":"d3"},
 "encoding":{"x":{"field":"s","type":"quantitative","bin":{"binned":true,"step":2},"scale":{"domain":[0,128],"nice":false,"zero":false},"axis":{"values":[0,4,8,12,16,20,24,28,32,36,40,44,48,52,56,60,64,68,72,76,80,84,88,92,96,100,104,108,112,116,120,124,128],"labelExpr":"datum.value % 20 ? '' : datum.label","tickSize":{"condition":{"test":"datum.value % 20 === 0","value":-4},"value":-2},"title":"Strip","titleAnchor":"end","titlePadding":1}},
  "y":{"field":"t","type":"quantitative","scale":{"domain":[-2.0,66.6],"nice":false,"zero":false},"axis":{"values":[0,2,4,6,8,10,12,14,16,18,20,22,24,26,28,30,32,34,36,38,40,42,44,46,48,50,52,54,56,58,60,62,64,66,68,70,72,74],"labelExpr":"datum.value % 10 ? '' : datum.label","tickSize":{"condition":{"test":"datum.value % 10 === 0","value":-4},"value":-2},"title":"CFG_CAL_DAC (fC)","titleAnchor":"end"}},
  "color":{"field":"v","type":"quantitative","scale":{"type":"linear","domain":[0,12.5,25,37.5,50,62.5,75,87.5,100],"range":["#352a87","#0f5cdd","#1481d6","#06a4ca","#2eb7a4","#87bf77","#d1bb59","#fec832","#f9fb0e"]},"legend":{"title":null,"values":[0,10,20,30,40,50,60,70,80,90,100]}}},
 "layer":[
  {"mark":{"type":"rect","stroke":"#f9fb0e","strokeWidth":1},"encoding":{"y2":{"datum":66.6},"color":{"datum":100,"type":"quantitative"}}},
  {"mark":"rect","encoding":{"y":{"field":"b","type":"quantitative"},"y2":{"field":"t"}}},
  {"data":{"name":"ex"},"transform":[{"filter":"datum.p==3"}],"mark":"rect","encoding":{"x":{"field":"s","type":"quantitative","bin":{"binned":true,"step":1}},"y":{"field":"b","type":"quantitative"},"y2":{"field":"t"}}}
 ]},
{"title":"VFAT 4: chipID 7827","width":133,"height":138,"data":{"name":"d4"},
 "encoding":{"x":{"field":"s","type":"quantitative","bin":{"binned":true,"step":2},"scale":{"domain":[0,128],"nice":false,"zero":false},"axis":{"values":[0,4,8,12,16,20,24,28,32,36,40,44,48,52,56,60,64,68,72,76,80,84,88,92,96,100,104,108,112,116,120,124,128],"labelExpr":"datum.value % 20 ? '' : datum.label","tickSize":{"condition":{"test":"datum.value % 20 === 0","value":-4},"value":-2},"title":"Strip","titleAnchor":"end","titlePadding":1}},
  "y":{"field":"t","type":"quantitative","scale":{"domain":[-2.2,59.9],"nice":false,"zero":false},"axis":{"values":[0,2,4,6,8,10,12,14,16,18,20,22,24,26,28,30,32,34,36,38,40,42,44,46,48,50,52,54,56,58,60,62,64,66,68,70,72,74],"labelExpr":"datum.value % 10 ? '' : datum.label","tickSize":{"condition":{"test":"datum.value % 10 === 0","value":-4},"value":-2},"title":"CFG_CAL_DAC (fC)","titleAnchor":"end"}},
  "color":{"field":"v","type":"quantitative","scale":{"type":"linear","domain":[0,12.5,25,37.5,50,62.5,75,87.5,100],"range":["#352a87","#0f5cdd","#1481d6","#06a4ca","#2eb7a4","#87bf77","#d1bb59","#fec832","#f9fb0e"]},"legend":{"title":null,"values":[0,10,20,30,40,50,60,70,80,90,100]}}},
 "layer":[
  {"mark":{"type":"rect","stroke":"#f9fb0e","strokeWidth":1},"encoding":{"y2":{"datum":59.9},"color":{"datum":100,"type":"quantitative"}}},
  {"mark":"rect","encoding":{"y":{"field":"b","type":"quantitative"},"y2":{"field":"t"}}},
  {"data":{"name":"ex"},"transform":[{"filter":"datum.p==4"}],"mark":"rect","encoding":{"x":{"field":"s","type":"quantitative","bin":{"binned":true,"step":1}},"y":{"field":"b","type":"quantitative"},"y2":{"field":"t"}}}
 ]},
{"title":"VFAT 5: chipID 7636","width":133,"height":138,"data":{"name":"d5"},
 "encoding":{"x":{"field":"s","type":"quantitative","bin":{"binned":true,"step":2},"scale":{"domain":[0,128],"nice":false,"zero":false},"axis":{"values":[0,4,8,12,16,20,24,28,32,36,40,44,48,52,56,60,64,68,72,76,80,84,88,92,96,100,104,108,112,116,120,124,128],"labelExpr":"datum.value % 20 ? '' : datum.label","tickSize":{"condition":{"test":"datum.value % 20 === 0","value":-4},"value":-2},"title":"Strip","titleAnchor":"end","titlePadding":1}},
  "y":{"field":"t","type":"quantitative","scale":{"domain":[-2.8,75.2],"nice":false,"zero":false},"axis":{"values":[0,2,4,6,8,10,12,14,16,18,20,22,24,26,28,30,32,34,36,38,40,42,44,46,48,50,52,54,56,58,60,62,64,66,68,70,72,74],"labelExpr":"datum.value % 10 ? '' : datum.label","tickSize":{"condition":{"test":"datum.value % 10 === 0","value":-4},"value":-2},"title":"CFG_CAL_DAC (fC)","titleAnchor":"end"}},
  "color":{"field":"v","type":"quantitative","scale":{"type":"linear","domain":[0,12.5,25,37.5,50,62.5,75,87.5,100],"range":["#352a87","#0f5cdd","#1481d6","#06a4ca","#2eb7a4","#87bf77","#d1bb59","#fec832","#f9fb0e"]},"legend":{"title":null,"values":[0,10,20,30,40,50,60,70,80,90,100]}}},
 "layer":[
  {"mark":{"type":"rect","stroke":"#f9fb0e","strokeWidth":1},"encoding":{"y2":{"datum":75.2},"color":{"datum":100,"type":"quantitative"}}},
  {"mark":"rect","encoding":{"y":{"field":"b","type":"quantitative"},"y2":{"field":"t"}}},
  {"data":{"name":"ex"},"transform":[{"filter":"datum.p==5"}],"mark":"rect","encoding":{"x":{"field":"s","type":"quantitative","bin":{"binned":true,"step":1}},"y":{"field":"b","type":"quantitative"},"y2":{"field":"t"}}}
 ]},
{"title":"VFAT 6: chipID 7367","width":133,"height":138,"data":{"name":"d6"},
 "encoding":{"x":{"field":"s","type":"quantitative","bin":{"binned":true,"step":2},"scale":{"domain":[0,128],"nice":false,"zero":false},"axis":{"values":[0,4,8,12,16,20,24,28,32,36,40,44,48,52,56,60,64,68,72,76,80,84,88,92,96,100,104,108,112,116,120,124,128],"labelExpr":"datum.value % 20 ? '' : datum.label","tickSize":{"condition":{"test":"datum.value % 20 === 0","value":-4},"value":-2},"title":"Strip","titleAnchor":"end","titlePadding":1}},
  "y":{"field":"t","type":"quantitative","scale":{"domain":[-2.2,73.8],"nice":false,"zero":false},"axis":{"values":[0,2,4,6,8,10,12,14,16,18,20,22,24,26,28,30,32,34,36,38,40,42,44,46,48,50,52,54,56,58,60,62,64,66,68,70,72,74],"labelExpr":"datum.value % 10 ? '' : datum.label","tickSize":{"condition":{"test":"datum.value % 10 === 0","value":-4},"value":-2},"title":"CFG_CAL_DAC (fC)","titleAnchor":"end"}},
  "color":{"field":"v","type":"quantitative","scale":{"type":"linear","domain":[0,12.5,25,37.5,50,62.5,75,87.5,100],"range":["#352a87","#0f5cdd","#1481d6","#06a4ca","#2eb7a4","#87bf77","#d1bb59","#fec832","#f9fb0e"]},"legend":{"title":null,"values":[0,10,20,30,40,50,60,70,80,90,100]}}},
 "layer":[
  {"mark":{"type":"rect","stroke":"#f9fb0e","strokeWidth":1},"encoding":{"y2":{"datum":73.8},"color":{"datum":100,"type":"quantitative"}}},
  {"mark":"rect","encoding":{"y":{"field":"b","type":"quantitative"},"y2":{"field":"t"}}},
  {"data":{"name":"ex"},"transform":[{"filter":"datum.p==6"}],"mark":"rect","encoding":{"x":{"field":"s","type":"quantitative","bin":{"binned":true,"step":1}},"y":{"field":"b","type":"quantitative"},"y2":{"field":"t"}}}
 ]},
{"title":"VFAT 7: chipID 7089","width":133,"height":138,"data":{"name":"d7"},
 "encoding":{"x":{"field":"s","type":"quantitative","bin":{"binned":true,"step":2},"scale":{"domain":[0,128],"nice":false,"zero":false},"axis":{"values":[0,4,8,12,16,20,24,28,32,36,40,44,48,52,56,60,64,68,72,76,80,84,88,92,96,100,104,108,112,116,120,124,128],"labelExpr":"datum.value % 20 ? '' : datum.label","tickSize":{"condition":{"test":"datum.value % 20 === 0","value":-4},"value":-2},"title":"Strip","titleAnchor":"end","titlePadding":1}},
  "y":{"field":"t","type":"quantitative","scale":{"domain":[-2.4,66.0],"nice":false,"zero":false},"axis":{"values":[0,2,4,6,8,10,12,14,16,18,20,22,24,26,28,30,32,34,36,38,40,42,44,46,48,50,52,54,56,58,60,62,64,66,68,70,72,74],"labelExpr":"datum.value % 10 ? '' : datum.label","tickSize":{"condition":{"test":"datum.value % 10 === 0","value":-4},"value":-2},"title":"CFG_CAL_DAC (fC)","titleAnchor":"end"}},
  "color":{"field":"v","type":"quantitative","scale":{"type":"linear","domain":[0,12.5,25,37.5,50,62.5,75,87.5,100],"range":["#352a87","#0f5cdd","#1481d6","#06a4ca","#2eb7a4","#87bf77","#d1bb59","#fec832","#f9fb0e"]},"legend":{"title":null,"values":[0,10,20,30,40,50,60,70,80,90,100]}}},
 "layer":[
  {"mark":{"type":"rect","stroke":"#f9fb0e","strokeWidth":1},"encoding":{"y2":{"datum":66.0},"color":{"datum":100,"type":"quantitative"}}},
  {"mark":"rect","encoding":{"y":{"field":"b","type":"quantitative"},"y2":{"field":"t"}}},
  {"data":{"name":"ex"},"transform":[{"filter":"datum.p==7"}],"mark":"rect","encoding":{"x":{"field":"s","type":"quantitative","bin":{"binned":true,"step":1}},"y":{"field":"b","type":"quantitative"},"y2":{"field":"t"}}}
 ]},
{"title":"VFAT 8: chipID 7665","width":133,"height":138,"data":{"name":"d8"},
 "encoding":{"x":{"field":"s","type":"quantitative","bin":{"binned":true,"step":2},"scale":{"domain":[0,128],"nice":false,"zero":false},"axis":{"values":[0,4,8,12,16,20,24,28,32,36,40,44,48,52,56,60,64,68,72,76,80,84,88,92,96,100,104,108,112,116,120,124,128],"labelExpr":"datum.value % 20 ? '' : datum.label","tickSize":{"condition":{"test":"datum.value % 20 === 0","value":-4},"value":-2},"title":"Strip","titleAnchor":"end","titlePadding":1}},
  "y":{"field":"t","type":"quantitative","scale":{"domain":[-2.4,63.6],"nice":false,"zero":false},"axis":{"values":[0,2,4,6,8,10,12,14,16,18,20,22,24,26,28,30,32,34,36,38,40,42,44,46,48,50,52,54,56,58,60,62,64,66,68,70,72,74],"labelExpr":"datum.value % 10 ? '' : datum.label","tickSize":{"condition":{"test":"datum.value % 10 === 0","value":-4},"value":-2},"title":"CFG_CAL_DAC (fC)","titleAnchor":"end"}},
  "color":{"field":"v","type":"quantitative","scale":{"type":"linear","domain":[0,12.5,25,37.5,50,62.5,75,87.5,100],"range":["#352a87","#0f5cdd","#1481d6","#06a4ca","#2eb7a4","#87bf77","#d1bb59","#fec832","#f9fb0e"]},"legend":{"title":null,"values":[0,10,20,30,40,50,60,70,80,90,100]}}},
 "layer":[
  {"mark":{"type":"rect","stroke":"#f9fb0e","strokeWidth":1},"encoding":{"y2":{"datum":63.6},"color":{"datum":100,"type":"quantitative"}}},
  {"mark":"rect","encoding":{"y":{"field":"b","type":"quantitative"},"y2":{"field":"t"}}},
  {"data":{"name":"ex"},"transform":[{"filter":"datum.p==8"}],"mark":"rect","encoding":{"x":{"field":"s","type":"quantitative","bin":{"binned":true,"step":1}},"y":{"field":"b","type":"quantitative"},"y2":{"field":"t"}}}
 ]},
{"title":"VFAT 9: chipID 8193","width":133,"height":138,"data":{"name":"d9"},
 "encoding":{"x":{"field":"s","type":"quantitative","bin":{"binned":true,"step":2},"scale":{"domain":[0,128],"nice":false,"zero":false},"axis":{"values":[0,4,8,12,16,20,24,28,32,36,40,44,48,52,56,60,64,68,72,76,80,84,88,92,96,100,104,108,112,116,120,124,128],"labelExpr":"datum.value % 20 ? '' : datum.label","tickSize":{"condition":{"test":"datum.value % 20 === 0","value":-4},"value":-2},"title":"Strip","titleAnchor":"end","titlePadding":1}},
  "y":{"field":"t","type":"quantitative","scale":{"domain":[-2.1,57.4],"nice":false,"zero":false},"axis":{"values":[0,2,4,6,8,10,12,14,16,18,20,22,24,26,28,30,32,34,36,38,40,42,44,46,48,50,52,54,56,58,60,62,64,66,68,70,72,74],"labelExpr":"datum.value % 10 ? '' : datum.label","tickSize":{"condition":{"test":"datum.value % 10 === 0","value":-4},"value":-2},"title":"CFG_CAL_DAC (fC)","titleAnchor":"end"}},
  "color":{"field":"v","type":"quantitative","scale":{"type":"linear","domain":[0,12.5,25,37.5,50,62.5,75,87.5,100],"range":["#352a87","#0f5cdd","#1481d6","#06a4ca","#2eb7a4","#87bf77","#d1bb59","#fec832","#f9fb0e"]},"legend":{"title":null,"values":[0,10,20,30,40,50,60,70,80,90,100]}}},
 "layer":[
  {"mark":{"type":"rect","stroke":"#f9fb0e","strokeWidth":1},"encoding":{"y2":{"datum":57.4},"color":{"datum":100,"type":"quantitative"}}},
  {"mark":"rect","encoding":{"y":{"field":"b","type":"quantitative"},"y2":{"field":"t"}}},
  {"data":{"name":"ex"},"transform":[{"filter":"datum.p==9"}],"mark":"rect","encoding":{"x":{"field":"s","type":"quantitative","bin":{"binned":true,"step":1}},"y":{"field":"b","type":"quantitative"},"y2":{"field":"t"}}}
 ]},
{"title":"VFAT 10: chipID 7596","width":133,"height":138,"data":{"name":"d10"},
 "encoding":{"x":{"field":"s","type":"quantitative","bin":{"binned":true,"step":2},"scale":{"domain":[0,128],"nice":false,"zero":false},"axis":{"values":[0,4,8,12,16,20,24,28,32,36,40,44,48,52,56,60,64,68,72,76,80,84,88,92,96,100,104,108,112,116,120,124,128],"labelExpr":"datum.value % 20 ? '' : datum.label","tickSize":{"condition":{"test":"datum.value % 20 === 0","value":-4},"value":-2},"title":"Strip","titleAnchor":"end","titlePadding":1}},
  "y":{"field":"t","type":"quantitative","scale":{"domain":[-2.5,66.2],"nice":false,"zero":false},"axis":{"values":[0,2,4,6,8,10,12,14,16,18,20,22,24,26,28,30,32,34,36,38,40,42,44,46,48,50,52,54,56,58,60,62,64,66,68,70,72,74],"labelExpr":"datum.value % 10 ? '' : datum.label","tickSize":{"condition":{"test":"datum.value % 10 === 0","value":-4},"value":-2},"title":"CFG_CAL_DAC (fC)","titleAnchor":"end"}},
  "color":{"field":"v","type":"quantitative","scale":{"type":"linear","domain":[0,12.5,25,37.5,50,62.5,75,87.5,100],"range":["#352a87","#0f5cdd","#1481d6","#06a4ca","#2eb7a4","#87bf77","#d1bb59","#fec832","#f9fb0e"]},"legend":{"title":null,"values":[0,10,20,30,40,50,60,70,80,90,100]}}},
 "layer":[
  {"mark":{"type":"rect","stroke":"#f9fb0e","strokeWidth":1},"encoding":{"y2":{"datum":66.2},"color":{"datum":100,"type":"quantitative"}}},
  {"mark":"rect","encoding":{"y":{"field":"b","type":"quantitative"},"y2":{"field":"t"}}},
  {"data":{"name":"ex"},"transform":[{"filter":"datum.p==10"}],"mark":"rect","encoding":{"x":{"field":"s","type":"quantitative","bin":{"binned":true,"step":1}},"y":{"field":"b","type":"quantitative"},"y2":{"field":"t"}}}
 ]},
{"title":"VFAT 11: chipID 7336","width":133,"height":138,"data":{"name":"d11"},
 "encoding":{"x":{"field":"s","type":"quantitative","bin":{"binned":true,"step":2},"scale":{"domain":[0,128],"nice":false,"zero":false},"axis":{"values":[0,4,8,12,16,20,24,28,32,36,40,44,48,52,56,60,64,68,72,76,80,84,88,92,96,100,104,108,112,116,120,124,128],"labelExpr":"datum.value % 20 ? '' : datum.label","tickSize":{"condition":{"test":"datum.value % 20 === 0","value":-4},"value":-2},"title":"Strip","titleAnchor":"end","titlePadding":1}},
  "y":{"field":"t","type":"quantitative","scale":{"domain":[-2.2,64.5],"nice":false,"zero":false},"axis":{"values":[0,2,4,6,8,10,12,14,16,18,20,22,24,26,28,30,32,34,36,38,40,42,44,46,48,50,52,54,56,58,60,62,64,66,68,70,72,74],"labelExpr":"datum.value % 10 ? '' : datum.label","tickSize":{"condition":{"test":"datum.value % 10 === 0","value":-4},"value":-2},"title":"CFG_CAL_DAC (fC)","titleAnchor":"end"}},
  "color":{"field":"v","type":"quantitative","scale":{"type":"linear","domain":[0,12.5,25,37.5,50,62.5,75,87.5,100],"range":["#352a87","#0f5cdd","#1481d6","#06a4ca","#2eb7a4","#87bf77","#d1bb59","#fec832","#f9fb0e"]},"legend":{"title":null,"values":[0,10,20,30,40,50,60,70,80,90,100]}}},
 "layer":[
  {"mark":{"type":"rect","stroke":"#f9fb0e","strokeWidth":1},"encoding":{"y2":{"datum":64.5},"color":{"datum":100,"type":"quantitative"}}},
  {"mark":"rect","encoding":{"y":{"field":"b","type":"quantitative"},"y2":{"field":"t"}}},
  {"data":{"name":"ex"},"transform":[{"filter":"datum.p==11"}],"mark":"rect","encoding":{"x":{"field":"s","type":"quantitative","bin":{"binned":true,"step":1}},"y":{"field":"b","type":"quantitative"},"y2":{"field":"t"}}}
 ]}
]
}
